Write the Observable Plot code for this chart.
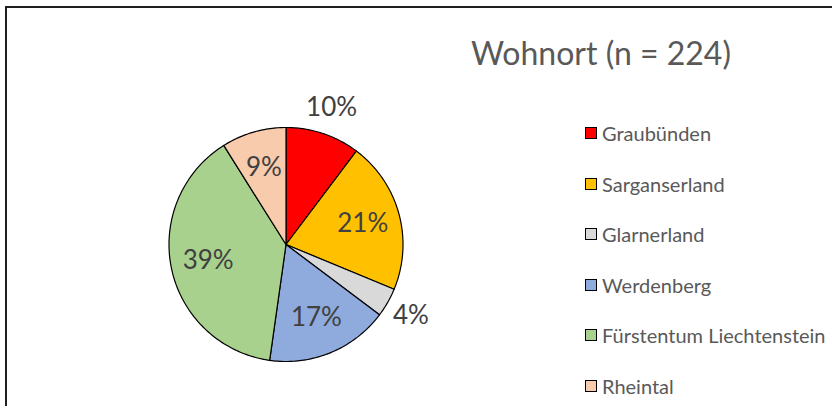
<!DOCTYPE html>
<html><head><meta charset="utf-8">
<script src="https://cdn.jsdelivr.net/npm/d3@7"></script>
<script src="https://cdn.jsdelivr.net/npm/@observablehq/plot@0.6"></script>
<style>
html,body{margin:0;padding:0;background:#fff;overflow:hidden;}
#wrap{position:relative;width:832px;height:406px;overflow:hidden;font-family:Lato,"Open Sans",sans-serif;}
#frame{position:absolute;left:5px;top:6px;width:900px;height:500px;border:2px solid #1e1e1e;box-sizing:border-box;}
#chart{position:absolute;left:0;top:0;}
#title{position:absolute;left:400px;width:402px;top:36.5px;text-align:center;font-size:32px;line-height:1;color:#595959;white-space:nowrap;}
.item{position:absolute;left:585px;height:24px;line-height:24px;display:flex;align-items:center;font-size:20px;color:#595959;white-space:nowrap;}
.sw{width:10px;height:10px;border:1px solid #000;margin-right:5px;flex:none;}
</style>
</head><body>
<div id="wrap">
  <div id="frame"></div>
  <div id="chart"></div>
  <div id="title"></div>
  <div id="legend"></div>
</div>
<script>
// ---- data ----
const titleText = "Wohnort (n = 224)";
const categories = ["Graubünden", "Sarganserland", "Glarnerland", "Werdenberg", "Fürstentum Liechtenstein", "Rheintal"];
const counts = [23, 47, 9, 38, 87, 20];
const colors = ["#FF0000", "#FFC000", "#D9D9D9", "#8FAADC", "#A9D18E", "#F8CBAD"];
const labelsOutside = ["Graubünden", "Glarnerland"];

// ---- build slices ----
const total = d3.sum(counts);
const pieGen = d3.pie().sort(null).value(d => d.count);
const arcs = pieGen(categories.map((name, i) => ({name, count: counts[i]})));

const polyRows = [];
const labelRows = [];
arcs.forEach(a => {
  const name = a.data.name;
  polyRows.push({name, x: 0, y: 0, k: 0});
  const n = Math.max(4, Math.ceil((a.endAngle - a.startAngle) / (Math.PI / 180)));
  for (let j = 0; j <= n; j++) {
    const t = a.startAngle + (a.endAngle - a.startAngle) * j / n;
    polyRows.push({name, x: Math.sin(t), y: Math.cos(t), k: j + 1});
  }
  polyRows.push({name, x: 0, y: 0, k: n + 2});
  const mid = (a.startAngle + a.endAngle) / 2;
  const r = labelsOutside.includes(name) ? 1.23 : 0.68;
  labelRows.push({name, x: r * Math.sin(mid), y: r * Math.cos(mid), label: Math.round(a.data.count / total * 100) + "%"});
});

const chart = Plot.plot({
  width: 832,
  height: 406,
  margin: 0,
  x: {domain: [-1, 1], range: [168.5, 402.5], axis: null},
  y: {domain: [-1, 1], range: [361, 127], axis: null},
  color: {domain: categories, range: colors},
  style: {background: "transparent", overflow: "visible"},
  marks: [
    Plot.line(polyRows, {x: "x", y: "y", z: "name", fill: "name", stroke: "#000", strokeWidth: 1.2, strokeLinejoin: "round", curve: "linear"}),
    Plot.text(labelRows, {x: "x", y: "y", text: "label", fontSize: 26, fill: "#404040", fontFamily: "Lato, 'Open Sans', sans-serif"})
  ]
});
document.getElementById("chart").appendChild(chart);

document.getElementById("title").textContent = titleText;
const legend = document.getElementById("legend");
const legendTop = 121, legendStep = 50.6;
categories.forEach((c, i) => {
  const it = document.createElement("div");
  it.className = "item";
  it.style.top = (legendTop + i * legendStep) + "px";
  const sw = document.createElement("span");
  sw.className = "sw";
  sw.style.background = colors[i];
  const tx = document.createElement("span");
  tx.textContent = c;
  it.appendChild(sw); it.appendChild(tx);
  legend.appendChild(it);
});
</script>
</body></html>
